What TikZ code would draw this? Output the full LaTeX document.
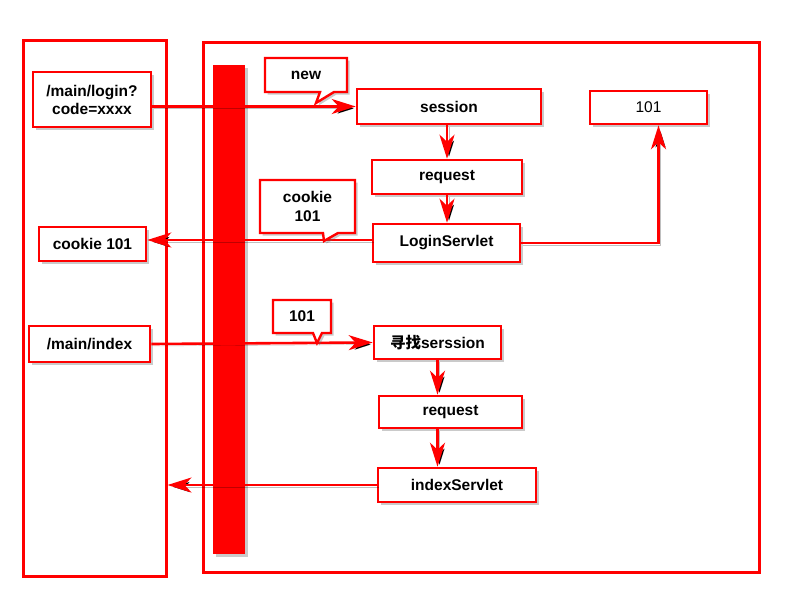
\documentclass[tikz,border=0pt]{standalone}
\usepackage{fontspec}
\setmainfont{Liberation Sans}
\newfontfamily\cjk{Noto Sans CJK SC}
\usetikzlibrary{arrows.meta,shadows}
\definecolor{redc}{RGB}{255,0,0}
\tikzset{
  shad/.style={drop shadow={shadow xshift=2.5pt,shadow yshift=-2.5pt,opacity=0.35,fill=black!60}},
  box/.style={draw=redc,line width=2.6pt,fill=white,shad,font=\fontsize{15.5}{18}\selectfont\bfseries,align=center,inner sep=0pt},
  frame/.style={draw=redc,line width=3pt,inner sep=0pt},
  callout/.style={draw=redc,line width=2.4pt,fill=white,line join=miter,shad},
  ctext/.style={font=\fontsize{15.5}{19}\selectfont\bfseries,align=center,inner sep=0pt},
  conn/.style={draw=redc,line width=2.6pt,-{Stealth[length=24pt,width=15pt,inset=7pt]},
     preaction={draw=black,draw opacity=0.25,transform canvas={shift={(2pt,-2pt)}}}},
}
\begin{document}
\begin{tikzpicture}[x=1pt,y=-1pt]
\useasboundingbox (0,0) rectangle (800,600);
% frames
\node[frame,minimum width=143pt,minimum height=536pt] (client) at (94.5,308) {};
\node[frame,minimum width=556pt,minimum height=530pt] (server) at (481,307) {};
\node[fill=redc,draw=none,inner sep=0pt,minimum width=32pt,minimum height=489pt,shad] (bar) at (229,309.5) {};
% boxes
\node[box,minimum width=118pt,minimum height=55pt] (login) at (92,99.5) {/main/login?\\code=xxxx};
\node[box,minimum width=184pt,minimum height=35pt] (session) at (449,106.5) {session};
\node[box,minimum width=117pt,minimum height=33pt,font=\fontsize{15.5}{18}\selectfont] (r101) at (648.5,107.5) {101};
\node[box,minimum width=150pt,minimum height=34pt] (req1) at (447,177) {request};
\node[box,minimum width=147pt,minimum height=38pt] (ls) at (446.5,243) {LoginServlet};
\node[box,minimum width=107pt,minimum height=34pt] (cookieL) at (92.5,244) {cookie 101};
\node[box,minimum width=121pt,minimum height=36pt] (index) at (89.5,344) {/main/index};
\node[box,minimum width=127pt,minimum height=33pt] (find) at (437.5,342.5) {{\cjk 寻找}serssion};
\node[box,minimum width=143pt,minimum height=32pt] (req2) at (450.5,412) {request};
\node[box,minimum width=158pt,minimum height=34pt] (is) at (457,485) {indexServlet};
% connectors
\draw[conn] (login.east |- session.west) -- (session.west);
\draw[conn] (req1.north |- session.south) -- (req1.north);
\draw[conn] (req1.south) -- (req1.south |- ls.north);
\draw[conn] (ls.east) -| ([xshift=10pt]r101.south);
\draw[conn] ([yshift=3pt]ls.west) -- ([yshift=3pt]ls.west -| cookieL.east);
\draw[conn] (index.east) -- (find.west);
\draw[conn] (find.south) -- (find.south |- req2.north);
\draw[conn] (find.south |- req2.south) -- (find.south |- is.north);
\draw[conn] (is.west) -- (is.west -| client.east);
% callouts
\draw[callout] (265,58) -- (347,58) -- (347,92) -- (334,92) -- (316,103) -- (320,92) -- (265,92) -- cycle;
\node[ctext] (newc) at (306,75) {new};
\draw[callout] (260,180) -- (355,180) -- (355,233) -- (338,233) -- (324,241) -- (323,233) -- (260,233) -- cycle;
\node[ctext] (cookiec) at (307.5,206.5) {cookie\\101};
\draw[callout] (273,300) -- (331,300) -- (331,333) -- (322,333) -- (317,343) -- (313,333) -- (273,333) -- cycle;
\node[ctext] (c101) at (302,316.5) {101};
\end{tikzpicture}
\end{document}
